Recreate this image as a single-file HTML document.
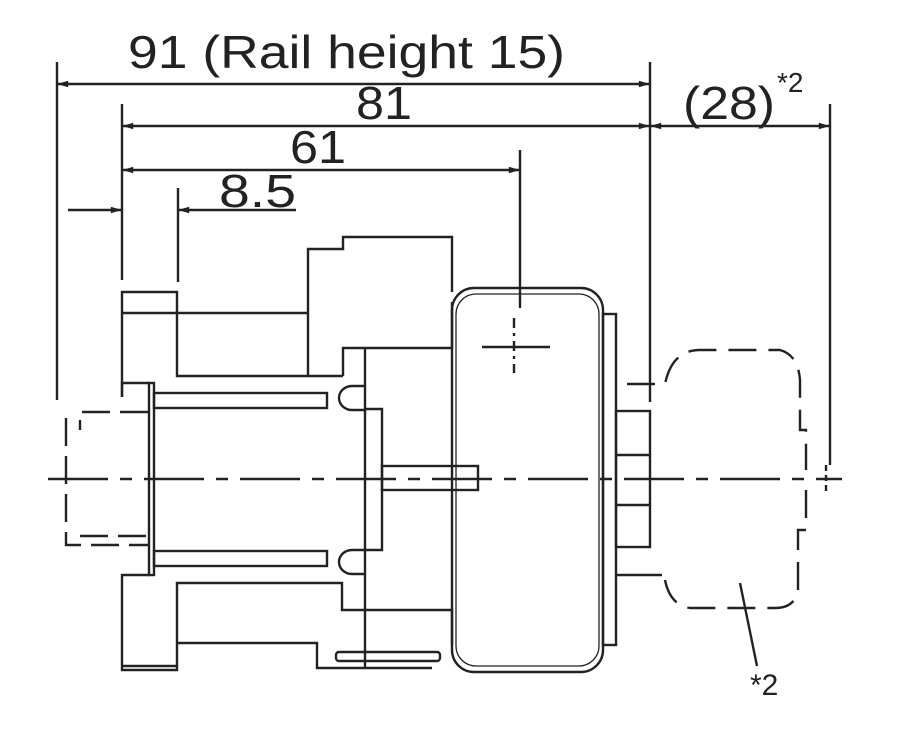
<!DOCTYPE html>
<html><head><style>body{margin:0;background:#fff}svg{display:block}</style></head><body>
<svg width="900" height="742" viewBox="0 0 900 742" xmlns="http://www.w3.org/2000/svg" font-family="Liberation Sans, Arial, sans-serif">
<defs><marker id="a" viewBox="0 0 14 10" refX="14" refY="5" markerWidth="14" markerHeight="8" orient="auto-start-reverse" markerUnits="userSpaceOnUse"><path d="M0,1 L14,5 L0,9 Z" fill="#222"/></marker></defs>
<g stroke="#222" stroke-width="2.4" fill="none">
<line x1="57" y1="62" x2="57" y2="400"/>
<line x1="650" y1="62" x2="650" y2="402"/>
<line x1="122" y1="104" x2="122" y2="280"/>
<line x1="178" y1="188" x2="178" y2="282"/>
<line x1="520" y1="150" x2="520" y2="308"/>
<line x1="830" y1="104" x2="830" y2="465"/>
<line x1="57" y1="84" x2="650" y2="84" marker-start="url(#a)" marker-end="url(#a)"/>
<line x1="122" y1="126" x2="650" y2="126" marker-start="url(#a)" marker-end="url(#a)"/>
<line x1="650" y1="126" x2="830" y2="126" marker-start="url(#a)" marker-end="url(#a)"/>
<line x1="122" y1="170" x2="520" y2="170" marker-start="url(#a)" marker-end="url(#a)"/>
<line x1="68" y1="210" x2="122" y2="210" marker-end="url(#a)"/>
<line x1="296" y1="210" x2="178" y2="210" marker-end="url(#a)"/>
<line x1="48" y1="479" x2="842" y2="479" stroke-dasharray="60,12,12,12"/>
<polyline points="122,397 122,292 177,292 177,376 343,376"/>
<line x1="122" y1="313" x2="308" y2="313"/>
<polyline points="308,376 308,249 343,249 343,237 452,237 452,292"/>
<polyline points="452,302 452,348 343,348 343,376"/>
<line x1="365" y1="348" x2="365" y2="668"/>
<polyline points="122,397 122,383 150,383"/>
<rect x="149" y="383" width="5" height="192"/>
<rect x="154" y="393" width="173" height="15"/>
<rect x="154" y="551" width="173" height="15"/>
<path d="M365,386 H352 A13,12 0 0 0 352,410 H365"/>
<path d="M365,550 H352 A13,12 0 0 0 352,574 H365"/>
<polyline points="365,409 382,409 382,550 365,550"/>
<rect x="382" y="466" width="96" height="24"/>
<polyline points="150,575 122,575 122,670 177,670 177,583 342,583 342,610 452,610 452,645"/>
<line x1="122" y1="666" x2="177" y2="666"/>
<polyline points="177,643 317,643 317,668 432,668"/>
<rect x="336" y="652" width="104" height="9" rx="3"/>
<rect x="452" y="288" width="151" height="384" rx="22"/>
<rect x="456" y="294" width="143" height="372" rx="20" stroke-width="1.3"/>
<rect x="603" y="314" width="13" height="331"/>
<rect x="616" y="411" width="34" height="136"/>
<line x1="616" y1="455" x2="650" y2="455"/>
<line x1="616" y1="505" x2="650" y2="505"/>
<line x1="616" y1="575" x2="662" y2="575"/>
<line x1="482" y1="347" x2="550" y2="347"/>
<line x1="514" y1="318" x2="514" y2="373" stroke-dasharray="10,5,3,5"/>
<path d="M148,412 H80 V430 M66,418 V545 H148 M80,536 H148" stroke-dasharray="28,10"/>
<path d="M627,384 H665 Q672,350 700,350 H780 Q798,355 800,380 V430 H806 V470 M806,490 V530 H798 V590 Q795,608 775,608 H690 Q670,605 665,580" stroke-dasharray="28,12"/>
<line x1="826" y1="465" x2="826" y2="492" stroke-dasharray="6,4"/>
<line x1="740" y1="583" x2="757" y2="666"/>
</g>
<g fill="#222">
<text x="128" y="68" font-size="46" textLength="437" lengthAdjust="spacingAndGlyphs">91 (Rail height 15)</text>
<text x="356" y="119" font-size="46" textLength="56" lengthAdjust="spacingAndGlyphs">81</text>
<text x="290" y="163" font-size="46" textLength="56" lengthAdjust="spacingAndGlyphs">61</text>
<text x="219" y="207" font-size="46" textLength="77" lengthAdjust="spacingAndGlyphs">8.5</text>
<text x="683" y="119" font-size="46" textLength="92" lengthAdjust="spacingAndGlyphs">(28)</text>
<text x="777" y="92" font-size="28">*2</text>
<text x="750" y="695" font-size="30">*2</text>
</g>
</svg>
</body></html>
